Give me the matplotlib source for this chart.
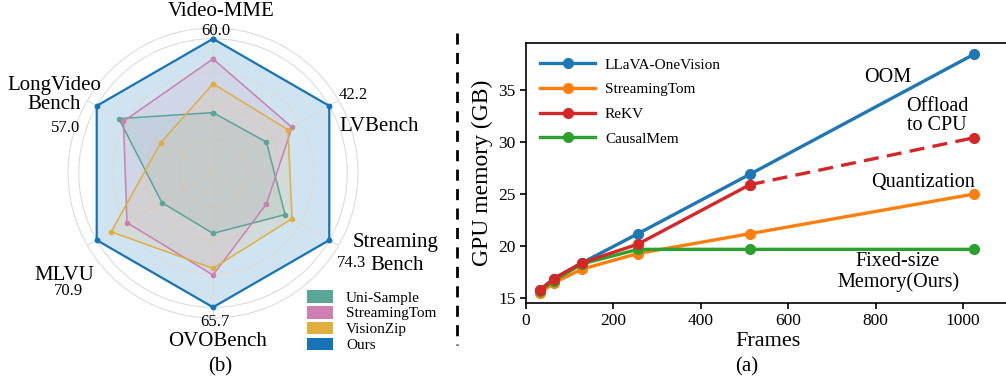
import numpy as np
import matplotlib
matplotlib.use("Agg")
import matplotlib.pyplot as plt
from matplotlib.patches import Patch
from matplotlib.lines import Line2D

plt.rcParams['font.family'] = ['Liberation Serif', 'DejaVu Serif']

# ---------------- data ----------------
radar_categories = ["Video-MME", "LVBench", "StreamingBench", "OVOBench", "MLVU", "LongVideoBench"]
ours_scores = [60.0, 42.2, 74.3, 65.7, 70.9, 57.0]
# values normalised to Ours (= 1.0) on each axis
uni_sample = [0.45, 0.46, 0.62, 0.45, 0.44, 0.81]
streamingtom_radar = [0.85, 0.68, 0.46, 0.76, 0.74, 0.77]
visionzip = [0.665, 0.645, 0.68, 0.71, 0.876, 0.45]
ours_norm = [1.0, 1.0, 1.0, 1.0, 1.0, 1.0]
radar_series = ["Uni-Sample", "StreamingTom", "VisionZip", "Ours"]

frames = [32, 64, 128, 256, 512, 1024]
llava_ov = [15.8, 16.9, 18.4, 21.2, 26.9, 38.4]
streamingtom_mem = [15.5, 16.5, 17.8, 19.3, 21.2, 25.0]
rekv = [15.8, 16.9, 18.4, 20.2, 25.9, 30.4]
causalmem = [15.7, 16.7, 18.3, 19.7, 19.7, 19.7]

W, H = 1006, 381
fig = plt.figure(figsize=(W / 100, H / 100), dpi=100)


def fx(px):
    return px / W


def fy(py):
    return 1 - py / H


# ---------------- radar (b) ----------------
rc = ['#5BA596', '#CC7FB0', '#E0AD40', '#1673B6']
cx, cy, R = 213, 173, 145
axr = fig.add_axes([fx(cx - R), fy(cy + R), 2 * R / W, 2 * R / H], projection='polar')
axr.set_theta_offset(np.pi / 2)
axr.set_theta_direction(-1)
n = len(radar_categories)
ang = np.linspace(0, 2 * np.pi, n, endpoint=False)
angc = np.concatenate([ang, ang[:1]])


def closed(v):
    v = np.asarray(v, float)
    return np.concatenate([v, v[:1]])


axr.fill(angc, closed(ours_norm), color=rc[3], alpha=0.2, lw=0, zorder=1)
for vals, col in zip([uni_sample, streamingtom_radar, visionzip], rc[:3]):
    axr.fill(angc, closed(vals), color=col, alpha=0.12, lw=0, zorder=2)
for vals, col in zip([uni_sample, streamingtom_radar, visionzip], rc[:3]):
    axr.plot(angc, closed(vals), color=col, lw=1.1, marker='o', ms=3, zorder=3)
axr.plot(angc, closed(ours_norm), color=rc[3], lw=1.6, marker='o', ms=3.2, zorder=4)

axr.set_ylim(0, 1.08)
axr.set_yticks([0.25, 0.5, 0.75, 1.0])
axr.set_yticklabels([])
axr.set_xticks(ang)
axr.set_xticklabels([])
axr.grid(color='#dcdcdc', lw=0.8)
axr.spines['polar'].set_color('#dcdcdc')
axr.spines['polar'].set_linewidth(0.8)
axr.set_facecolor('none')

lab_fs, num_fs = 15, 12
fig.text(fx(221), fy(12), "Video-MME", ha='center', va='center', fontsize=lab_fs)
fig.text(fx(216), fy(31), f"{ours_scores[0]:.1f}", ha='center', va='center', fontsize=num_fs)
fig.text(fx(353), fy(95), f"{ours_scores[1]:.1f}", ha='center', va='center', fontsize=num_fs)
fig.text(fx(379), fy(127), "LVBench", ha='center', va='center', fontsize=lab_fs)
fig.text(fx(396), fy(243), "Streaming", ha='center', va='center', fontsize=lab_fs)
fig.text(fx(397), fy(265), "Bench", ha='center', va='center', fontsize=lab_fs)
fig.text(fx(352), fy(263), f"{ours_scores[2]:.1f}", ha='center', va='center', fontsize=num_fs)
fig.text(fx(215), fy(322), f"{ours_scores[3]:.1f}", ha='center', va='center', fontsize=num_fs)
fig.text(fx(218), fy(342), "OVOBench", ha='center', va='center', fontsize=lab_fs)
fig.text(fx(220), fy(367), "(b)", ha='center', va='center', fontsize=lab_fs)
fig.text(fx(64), fy(275), "MLVU", ha='center', va='center', fontsize=lab_fs)
fig.text(fx(68), fy(291), f"{ours_scores[4]:.1f}", ha='center', va='center', fontsize=num_fs)
fig.text(fx(54), fy(95), "LongVideo\nBench", ha='center', va='center', fontsize=lab_fs,
         linespacing=0.95)
fig.text(fx(66), fy(128), f"{ours_scores[5]:.1f}", ha='center', va='center', fontsize=num_fs)

handles = [Patch(facecolor=c, edgecolor='none') for c in rc]
fig.legend(handles, radar_series, loc='upper left', bbox_to_anchor=(fx(307), fy(290)),
           frameon=False, fontsize=11, handlelength=1.7, handleheight=0.9,
           labelspacing=0.08, handletextpad=0.85, borderpad=0, borderaxespad=0)

# ---------------- separator ----------------
fig.add_artist(Line2D([fx(457), fx(457)], [fy(33), fy(345)], color='black', lw=2,
                      linestyle=(0, (4, 3)), transform=fig.transFigure))

# ---------------- memory plot (a) ----------------
ax = fig.add_axes([fx(526), fy(303), (1009 - 526) / W, (303 - 43) / H])
lw, ms = 2.4, 7
c_blue, c_orange, c_red, c_green = '#1f77b4', '#ff7f0e', '#d62728', '#2ca02c'
ax.plot(frames, llava_ov, color=c_blue, lw=lw, marker='o', ms=ms, label='LLaVA-OneVision', zorder=3)
ax.plot(frames, streamingtom_mem, color=c_orange, lw=lw, marker='o', ms=ms, label='StreamingTom', zorder=3)
ax.plot(frames[:5], rekv[:5], color=c_red, lw=lw, marker='o', ms=ms, label='ReKV', zorder=5)
ax.plot(frames[4:], rekv[4:], color=c_red, lw=lw, marker='o', ms=ms, linestyle=(0, (4.5, 2.5)), zorder=5)
ax.plot(frames, causalmem, color=c_green, lw=lw, marker='o', ms=ms, label='CausalMem', zorder=4)

ax.set_xlim(0, 1105)
ax.set_ylim(14.55, 39.5)
ax.set_xticks([0, 200, 400, 600, 800, 1000])
ax.set_yticks([15, 20, 25, 30, 35])
ax.tick_params(labelsize=12.5, direction='out', length=4, width=1.2)
for s in ax.spines.values():
    s.set_linewidth(1.2)
ax.set_xlabel("Frames", fontsize=16, labelpad=2)
ax.set_ylabel("GPU memory (GB)", fontsize=17, labelpad=4)
fig.text(fx(747), fy(367), "(a)", ha='center', va='center', fontsize=15)

ax.legend(loc='upper left', bbox_to_anchor=((540 - 526) / 483, (303 - 58) / 260),
          frameon=False, fontsize=11, handlelength=3.6, handletextpad=0.65,
          labelspacing=0.72, borderpad=0, borderaxespad=0)

ann_fs = 14.5
fig.text(fx(888), fy(77), "OOM", ha='center', va='center', fontsize=ann_fs)
fig.text(fx(937), fy(116), "Offload\nto CPU", ha='center', va='center', fontsize=ann_fs,
         linespacing=0.95)
fig.text(fx(923), fy(182), "Quantization", ha='center', va='center', fontsize=ann_fs)
fig.text(fx(898), fy(272), "Fixed-size\nMemory(Ours)", ha='center', va='center', fontsize=ann_fs,
         linespacing=1.05)

fig.savefig("out.png", dpi=100)
